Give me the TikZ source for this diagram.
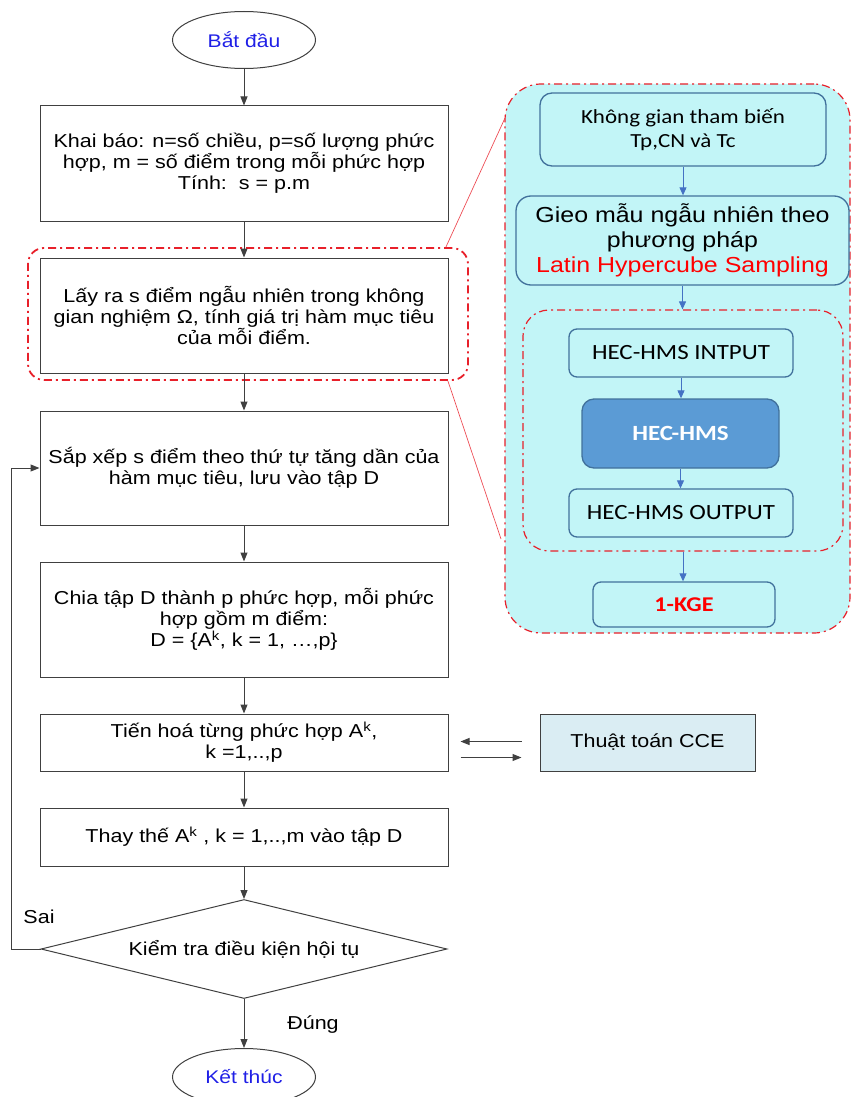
\documentclass[tikz,border=0pt]{standalone}
\usepackage{fontspec}
\setmainfont[FakeStretch=1.15]{Liberation Sans}
\newfontfamily\calibri[FakeStretch=1.15]{Carlito}
\usetikzlibrary{positioning,calc,shapes.geometric,arrows.meta}
\definecolor{dodut}{HTML}{E8202A}
\definecolor{nenxanh}{HTML}{C2F5F7}
\definecolor{vienxanh}{HTML}{41719C}
\definecolor{hecxanh}{HTML}{5B9BD5}
\definecolor{tenxanh}{HTML}{4472C4}
\definecolor{nencce}{HTML}{DAEDF3}
\definecolor{chuxanh}{HTML}{1F1FE6}

\begin{document}
\begin{tikzpicture}[x=1pt,y=-1pt,
    khoi/.style={rectangle,draw=black!75,line width=1pt,minimum width=408pt,align=center,anchor=center,font=\fontsize{18.7}{21}\selectfont},
    elip/.style={ellipse,draw=black!75,line width=1pt,minimum width=143pt,minimum height=57pt,text=chuxanh,font=\fontsize{18.3}{21}\selectfont},
    tuyen/.style={draw=black!75,line width=1pt,-{Triangle[length=9pt,width=7pt]}},
    khungdo/.style={draw=dodut,rounded corners=16pt,dash pattern=on 8pt off 4pt on 2pt off 4pt},
    hop/.style={rectangle,draw=vienxanh,line width=1.3pt,fill=nenxanh,align=center,anchor=center},
    tenx/.style={draw=tenxanh,line width=0.9pt,-{Triangle[length=8pt,width=7pt]}},
    noi/.style={draw=dodut!80,line width=0.7pt}]
    \useasboundingbox (0,0) rectangle (851,1097);
    % khung ben phai
    \node[khungdo,fill=nenxanh,line width=1.2pt,rounded corners=36pt,minimum width=345pt,minimum height=549pt] at (677.5,358.5) (P) {};
    \node[hop,rounded corners=12pt,minimum width=286pt,minimum height=73pt,font=\calibri\fontsize{20}{24}\selectfont] at (683,129.5) (KG) {Không gian tham biến\\Tp,CN và Tc};
    \node[hop,rounded corners=15pt,minimum width=333pt,minimum height=89pt,font=\fontsize{21.7}{25}\selectfont] at (682.5,240.5) (GM) {Gieo mẫu ngẫu nhiên theo\\phương pháp\\\textcolor{red}{Latin Hypercube Sampling}};
    \node[khungdo,line width=1.2pt,rounded corners=26pt,minimum width=320pt,minimum height=241pt] at (683,430.5) (IR) {};
    \node[hop,rounded corners=8pt,minimum width=224pt,minimum height=48pt,font=\calibri\fontsize{21.7}{24}\selectfont] at (681,353) (IN) {HEC-HMS INTPUT};
    \node[hop,fill=hecxanh,rounded corners=12pt,minimum width=197pt,minimum height=69pt,text=white,font=\calibri\bfseries\fontsize{21.7}{24}\selectfont] at (680.5,433.5) (HM) {HEC-HMS};
    \node[hop,rounded corners=8pt,minimum width=224pt,minimum height=48pt,font=\calibri\fontsize{21.7}{24}\selectfont] at (681,513) (OUT) {HEC-HMS OUTPUT};
    \node[hop,rounded corners=8pt,minimum width=182pt,minimum height=45pt,text=red,font=\calibri\bfseries\fontsize{21}{24}\selectfont] at (684,604.5) (KGE) {1-KGE};
    \draw[tenx] (KG.south) -- (KG.south |- GM.north);
    \draw[tenx] (GM.south) -- (GM.south |- IR.north);
    \draw[tenx] (IN.south) -- (IN.south |- HM.north);
    \draw[tenx] (HM.south) -- (HM.south |- OUT.north);
    \draw[tenx] (IR.south) -- (IR.south |- KGE.north);
    % luu do ben trai
    \node[elip] at (244,40) (BD) {Bắt đầu};
    \node[khoi,minimum height=115pt] at (244,163.5) (KB) {Khai báo: n=số chiều, p=số lượng phức\\hợp, m = số điểm trong mỗi phức hợp\\Tính:\ \ s = p.m};
    \node[khoi,minimum height=115pt] at (244,315.5) (LR) {Lấy ra s điểm ngẫu nhiên trong không\\gian nghiệm Ω, tính giá trị hàm mục tiêu\\của mỗi điểm.};
    \node[khungdo,line width=1.8pt,minimum width=440pt,minimum height=132pt] at (248,314) (RF) {};
    \node[khoi,minimum height=114pt] at (244,468) (SX) {Sắp xếp s điểm theo thứ tự tăng dần của\\hàm mục tiêu, lưu vào tập D};
    \node[khoi,minimum height=115pt] at (244,619.5) (CT) {Chia tập D thành p phức hợp, mỗi phức\\hợp gồm m điểm:\\D = \{A\textsuperscript{k}, k = 1, …,p\}};
    \node[khoi,minimum height=57pt] at (244,742.5) (TH) {Tiến hoá từng phức hợp A\textsuperscript{k},\\k =1,..,p};
    \node[khoi,minimum height=58pt] at (244,837) (TT) {Thay thế A\textsuperscript{k} , k = 1,..,m vào tập D};
    \node[diamond,draw=black!75,line width=1pt,aspect=4,inner sep=0pt,minimum width=406pt,minimum height=99pt,font=\fontsize{18.7}{21}\selectfont] at (244,949) (KT) {Kiểm tra điều kiện hội tụ};
    \node[elip] at (244,1077) (KTc) {Kết thúc};
    \node[khoi,fill=nencce,minimum width=215pt,minimum height=57pt] at (647.5,742.5) (CCE) {Thuật toán CCE};
    \node[font=\fontsize{18.7}{21}\selectfont] at (39,917) (SAI) {Sai};
    \node[font=\fontsize{18.7}{21}\selectfont] at (313,1025) (DUNG) {Đúng};
    \draw[tuyen] (BD) -- (KB);
    \draw[tuyen] (KB) -- (LR);
    \draw[tuyen] (LR) -- (SX);
    \draw[tuyen] (SX) -- (CT);
    \draw[tuyen] (CT) -- (TH);
    \draw[tuyen] (TH) -- (TT);
    \draw[tuyen] (TT) -- (KT);
    \draw[tuyen] (KT) -- (KTc);
    \draw[tuyen] (KT.west) -- ++(-29pt,0) |- (SX.west);
    \draw[tuyen] ([shift={(-18,-1)}]CCE.west) -- ([shift={(12,-1)}]TH.east);
    \draw[tuyen] ([shift={(12,15)}]TH.east) -- ([shift={(-18,15)}]CCE.west);
    % duong noi sang khung phai
    \coordinate (T1) at (505,118);
    \coordinate (T2) at (501,539);
    \draw[noi] ([xshift=-23pt]RF.north east) -- (T1);
    \draw[noi] ([xshift=-21pt]RF.south east) -- (T2);
\end{tikzpicture}
\end{document}
